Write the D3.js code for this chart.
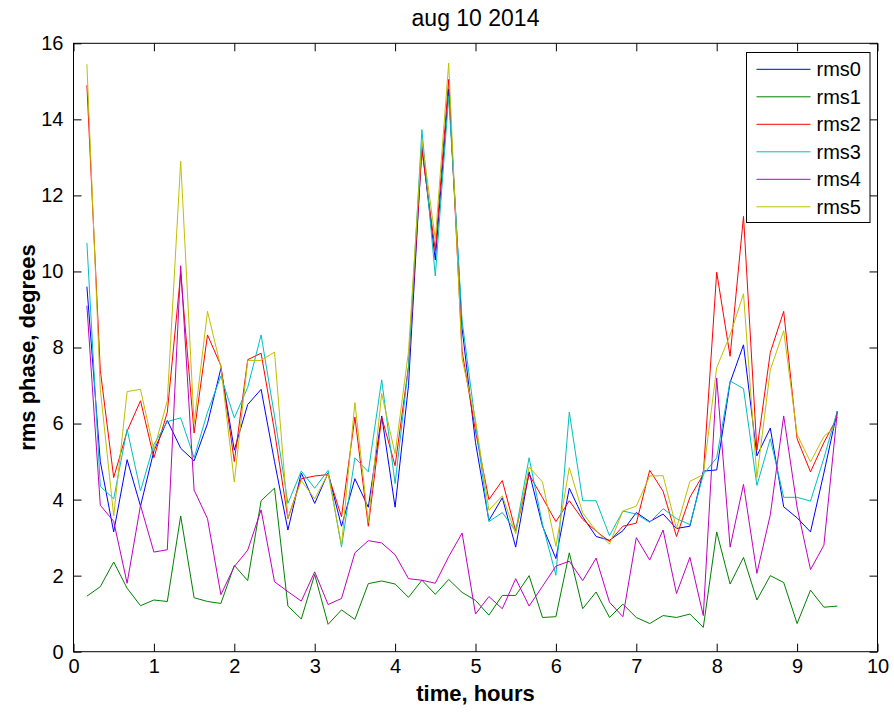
<!DOCTYPE html>
<html>
<head>
<meta charset="utf-8">
<script src="https://cdn.jsdelivr.net/npm/d3@7"></script>
<style>
  body { margin: 0; background: #fff; }
  svg { display: block; font-family: "Liberation Sans", Arial, sans-serif; }
</style>
</head>
<body>
<svg id="chart" width="894" height="715"></svg>
<script>
// samples every 10 minutes, t = 1/6 ... 9.5 h
const steps = d3.range(1, 58);
const times = steps.map(k => k / 6);

const seriesNames = ["rms0", "rms1", "rms2", "rms3", "rms4", "rms5"];
const seriesColors = ["#0000ff", "#008000", "#ff0000", "#00bfbf", "#bf00bf", "#bfbf00"];

const rms0 = [9.6, 5.0, 3.15, 5.05, 3.83, 5.28, 6.08, 5.35, 5.02, 6.0,
  7.45, 5.3, 6.5, 6.9, 5.0, 3.2, 4.7, 3.9, 4.7, 3.3,
  4.55, 3.8, 6.2, 3.8, 7.0, 13.3, 10.3, 14.8, 8.5, 5.5,
  3.45, 4.05, 2.75, 4.73, 3.3, 2.45, 4.3, 3.55, 3.03, 2.93,
  3.18, 3.66, 3.42, 3.62, 3.24, 3.3, 4.75, 4.78, 7.08, 8.07,
  5.15, 5.88, 3.81, 3.52, 3.15, 4.7, 6.33];
const rms1 = [1.46, 1.71, 2.36, 1.67, 1.21, 1.36, 1.32, 3.57, 1.42, 1.32,
  1.27, 2.27, 1.87, 3.97, 4.3, 1.2, 0.86, 2.03, 0.72, 1.1,
  0.85, 1.79, 1.86, 1.78, 1.43, 1.88, 1.51, 1.9, 1.56, 1.35,
  0.96, 1.48, 1.48, 2.0, 0.9, 0.92, 2.6, 1.13, 1.57, 0.9,
  1.25, 0.9, 0.74, 0.95, 0.9, 0.99, 0.64, 3.15, 1.78, 2.48,
  1.36, 2.0, 1.82, 0.74, 1.62, 1.17, 1.2];
const rms2 = [14.9, 7.4, 4.58, 5.8, 6.6, 5.1, 6.3, 9.95, 5.75, 8.33,
  7.52, 5.0, 7.68, 7.85, 5.8, 3.5, 4.55, 4.62, 4.66, 3.55,
  6.17, 3.3, 6.17, 4.89, 7.5, 13.2, 10.55, 15.05, 7.9, 5.8,
  4.0, 4.5, 3.17, 4.66, 4.05, 3.42, 3.97, 3.48, 3.17, 2.9,
  3.3, 3.38, 4.77, 4.22, 3.03, 4.06, 4.66, 9.98, 7.77, 11.45,
  5.3, 7.87, 8.95, 5.6, 4.73, 5.5, 6.17];
const rms3 = [10.75, 4.35, 4.02, 5.85, 4.23, 5.45, 6.05, 6.15, 5.1, 6.3,
  7.25, 6.15, 6.95, 8.33, 6.2, 3.9, 4.75, 4.3, 4.77, 2.75,
  5.1, 4.73, 7.15, 4.42, 7.5, 13.73, 9.88, 14.6, 8.7, 6.0,
  3.42, 3.66, 3.17, 5.1, 3.35, 2.01, 6.3, 3.97, 3.97, 3.05,
  3.7, 3.62, 3.4, 3.76, 3.5, 3.34, 4.66, 5.1, 7.12, 6.92,
  4.37, 5.6, 4.06, 4.06, 3.96, 5.09, 6.33];
const rms4 = [9.1, 3.85, 3.43, 1.8, 3.85, 2.62, 2.68, 10.15, 4.25, 3.5,
  1.5, 2.24, 2.67, 3.73, 1.84, 1.58, 1.33, 2.1, 1.24, 1.4,
  2.6, 2.92, 2.86, 2.55, 1.92, 1.88, 1.8, 2.5, 3.12, 0.99,
  1.45, 1.13, 1.92, 1.2, 1.72, 2.25, 2.38, 1.87, 2.46, 1.3,
  0.92, 3.0, 2.41, 3.2, 1.53, 2.48, 0.95, 7.2, 2.75, 4.4,
  2.06, 3.6, 6.2, 3.8, 2.16, 2.8, 6.3];
const rms5 = [15.45, 6.9, 3.57, 6.84, 6.9, 5.3, 6.6, 12.9, 6.0, 8.95,
  7.48, 4.46, 7.66, 7.66, 7.88, 3.52, 4.5, 4.02, 4.68, 2.8,
  6.55, 3.4, 6.79, 5.2, 7.9, 13.45, 10.85, 15.48, 7.7, 6.1,
  3.72, 4.1, 3.1, 4.86, 4.46, 2.77, 4.84, 3.65, 3.18, 2.83,
  3.7, 3.83, 4.62, 4.63, 3.24, 4.48, 4.66, 7.47, 8.33, 9.41,
  4.58, 7.41, 8.44, 5.71, 4.99, 5.66, 5.97];

const allSeries = [rms0, rms1, rms2, rms3, rms4, rms5];

const xTicks = d3.range(0, 11);
const yTicks = d3.range(0, 17, 2);

const margin = {left: 73.5, right: 16.5, top: 43.3, bottom: 63.3};
const width = 894, height = 715;
const svg = d3.select("#chart");

const x = d3.scaleLinear().domain([0, 10]).range([margin.left, width - margin.right]);
const y = d3.scaleLinear().domain([0, 16]).range([height - margin.bottom, margin.top]);

const tickLen = 8;

// ticks point inward on all four sides
svg.append("g")
    .attr("transform", `translate(0,${y(0)})`)
    .call(d3.axisBottom(x).tickValues(xTicks).tickSizeInner(-tickLen).tickSizeOuter(0).tickPadding(7))
    .call(g => g.select(".domain").remove());
svg.append("g")
    .attr("transform", `translate(0,${y(16)})`)
    .call(d3.axisTop(x).tickValues(xTicks).tickSizeInner(-tickLen).tickSizeOuter(0).tickFormat(""))
    .call(g => g.select(".domain").remove());
svg.append("g")
    .attr("transform", `translate(${x(0)},0)`)
    .call(d3.axisLeft(y).tickValues(yTicks).tickSizeInner(-tickLen).tickSizeOuter(0).tickPadding(10))
    .call(g => g.select(".domain").remove());
svg.append("g")
    .attr("transform", `translate(${x(10)},0)`)
    .call(d3.axisRight(y).tickValues(yTicks).tickSizeInner(-tickLen).tickSizeOuter(0).tickFormat(""))
    .call(g => g.select(".domain").remove());

svg.selectAll(".tick line").attr("stroke", "#000").attr("stroke-width", 1);
svg.selectAll(".tick text")
    .attr("fill", "#000")
    .style("font-size", "20px")
    .style("font-family", "Liberation Sans, Arial, sans-serif");

const line = d3.line()
    .x((d, i) => x(times[i]))
    .y(d => y(d));

const plot = svg.append("g");
allSeries.forEach((vals, s) => {
    plot.append("path")
        .datum(vals)
        .attr("fill", "none")
        .attr("stroke", seriesColors[s])
        .attr("stroke-width", 1)
        .attr("d", line);
});

// axes box
svg.append("rect")
    .attr("x", x(0)).attr("y", y(16))
    .attr("width", x(10) - x(0)).attr("height", y(0) - y(16))
    .attr("fill", "none").attr("stroke", "#000").attr("stroke-width", 1);

// legend
const legend = svg.append("g").attr("transform", "translate(746.5,52.5)");
legend.append("rect")
    .attr("width", 123.5).attr("height", 170)
    .attr("fill", "#fff").attr("stroke", "#000").attr("stroke-width", 1);
seriesNames.forEach((name, i) => {
    const yy = 16.8 + i * 27.5;
    legend.append("line")
        .attr("x1", 10).attr("x2", 64)
        .attr("y1", yy).attr("y2", yy)
        .attr("stroke", seriesColors[i]).attr("stroke-width", 1);
    legend.append("text")
        .attr("x", 70).attr("y", yy)
        .attr("dy", "0.35em")
        .style("font-size", "20px")
        .text(name);
});

// title and axis labels
svg.append("text")
    .attr("x", (x(0) + x(10)) / 2).attr("y", 26)
    .attr("text-anchor", "middle")
    .style("font-size", "23px")
    .text("aug 10 2014");

svg.append("text")
    .attr("x", (x(0) + x(10)) / 2).attr("y", 701)
    .attr("text-anchor", "middle")
    .style("font-size", "22px")
    .style("font-weight", "bold")
    .text("time, hours");

svg.append("text")
    .attr("transform", `translate(35,${(y(0) + y(16)) / 2}) rotate(-90)`)
    .attr("text-anchor", "middle")
    .style("font-size", "22px")
    .style("font-weight", "bold")
    .text("rms phase, degrees");
</script>
</body>
</html>
